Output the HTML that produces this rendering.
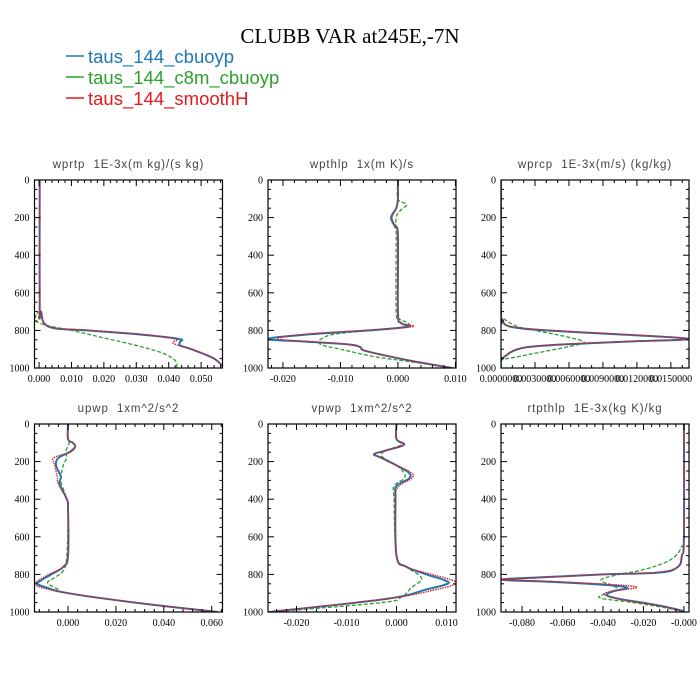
<!DOCTYPE html>
<html><head><meta charset="utf-8"><style>
body{margin:0;background:#fff;width:700px;height:700px;overflow:hidden}
svg{display:block}
.tk{font-family:"Liberation Serif",serif;font-size:10px;fill:#000}
.pt{font-family:"Liberation Sans",sans-serif;font-size:11.5px;fill:#444;letter-spacing:0.9px;white-space:pre}
</style></head><body>
<svg id="chart" width="700" height="700">
<text x="350" y="43" text-anchor="middle" font-family="Liberation Serif,serif" font-size="21">CLUBB VAR at245E,-7N</text>
<g>
<g><line x1="66" y1="56" x2="84" y2="56" stroke="#1f77b4" stroke-width="1.5"/><text x="88" y="63" font-family="Liberation Sans,sans-serif" font-size="18.5" fill="#1f77b4">taus_144_cbuoyp</text></g>
<g><line x1="66" y1="77" x2="84" y2="77" stroke="#2ca02c" stroke-width="1.5"/><text x="88" y="84" font-family="Liberation Sans,sans-serif" font-size="18.5" fill="#2ca02c">taus_144_c8m_cbuoyp</text></g>
<g><line x1="66" y1="98" x2="84" y2="98" stroke="#e31a1c" stroke-width="1.5"/><text x="88" y="105" font-family="Liberation Sans,sans-serif" font-size="18.5" fill="#e31a1c">taus_144_smoothH</text></g>
</g>
</svg>
<script>
// ---- data (levels 0..1000, downward) ----
const p1Lev=[0,680,700,780,800,820,845,860,880,900,950,1000];
const p1Blue=[0.0002,0.0002,0.0006,0.003,0.015,0.03,0.043,0.0435,0.0435,0.047,0.054,0.057];
const p1RedLev=[0,680,700,780,800,820,845,860,870,885,900,950,1000];
const p1Red=[0.0002,0.0002,0.0006,0.003,0.016,0.031,0.042,0.0415,0.0415,0.044,0.047,0.054,0.057];
const p1GreenLev=[0,680,700,740,760,780,800,840,880,920,960,1000];
const p1Green=[0.0002,0.0002,-0.0005,-0.0012,0,0.004,0.01,0.02,0.03,0.038,0.042,0.0425];

const p2Lev=[0,100,150,200,250,300,700,760,780,800,820,845,860,875,890,910,960,1000];
const p2Blue=[0,0,-0.0003,-0.0012,-0.0005,0,0,0.0005,0.0018,-0.005,-0.015,-0.0226,-0.016,-0.0085,-0.0065,-0.0055,0.002,0.0095];
const p2Red=[0,0,-0.0003,-0.0010,-0.0004,0,0,0.0006,0.0025,-0.006,-0.016,-0.021,-0.015,-0.0085,-0.0065,-0.0055,0.002,0.0095];
const p2GreenLev=[0,100,130,160,200,300,700,740,760,780,800,820,840,860,880,900,940,970,1000];
const p2Green=[0,0,0.0015,0.0005,-0.0003,-0.0003,-0.0003,0.0003,0.0017,0.0012,-0.005,-0.011,-0.013,-0.0138,-0.013,-0.01,-0.004,0.003,0.0095];

const p3Lev=[0,700,740,780,800,820,845,860,880,900,940,960,1000];
const p3Blue=[0,0,0.0001,0.0008,0.004,0.01,0.0166,0.011,0.004,0.0015,0.0003,0,0];
const p3Red=[0,0,0.0001,0.0009,0.0045,0.0105,0.0164,0.0105,0.0038,0.0014,0.0003,0,0];
const p3GreenLev=[0,700,740,780,800,830,860,880,910,940,960,1000];
const p3Green=[0,0,0.0003,0.0015,0.003,0.0055,0.0073,0.0065,0.004,0.0015,0,0];

const p4Lev=[0,80,100,120,150,180,220,280,320,400,450,700,760,800,830,850,870,900,950,1000];
const p4Blue=[0,0,0.002,0.003,0.0005,-0.004,-0.005,-0.003,-0.0035,-0.0005,0,0,-0.002,-0.007,-0.011,-0.0128,-0.009,0,0.028,0.0625];
const p4Red=[0,0,0.002,0.003,0.001,-0.006,-0.0055,-0.0045,-0.004,-0.0005,0,0,-0.002,-0.008,-0.012,-0.014,-0.011,0,0.028,0.0625];
const p4GreenLev=[0,80,100,150,180,220,300,380,450,700,780,820,845,880,900,950,1000];
const p4Green=[0,0,0.0005,-0.001,-0.0005,-0.002,-0.003,-0.001,0,-0.0005,-0.002,-0.006,-0.0085,-0.004,0,0.028,0.0625];

const p5Lev=[0,80,110,140,160,180,220,260,290,330,400,700,760,800,830,850,880,930,1000];
const p5Blue=[0,0,0.0015,-0.002,-0.0045,-0.003,0,0.0025,0.0025,0,-0.0002,0,0.002,0.006,0.0095,0.0102,0.006,-0.002,-0.0255];
const p5Red=[0,0,0.0015,-0.002,-0.0042,-0.003,0,0.003,0.003,0.0005,-0.0002,0,0.002,0.007,0.011,0.0118,0.008,-0.002,-0.0255];
const p5GreenLev=[0,80,110,140,170,220,260,290,330,400,700,760,820,870,920,950,1000];
const p5Green=[0,0,0.001,-0.002,-0.003,0,0.0015,0.0015,-0.0005,-0.0005,0,0.002,0.005,0.003,0.001,-0.003,-0.025];

const p6Lev=[0,600,700,760,790,800,815,828,840,855,870,890,910,930,960,990,1000];
const p6Blue=[0,0,-0.001,-0.003,-0.012,-0.04,-0.07,-0.09,-0.065,-0.04,-0.028,-0.035,-0.038,-0.032,-0.015,-0.002,0];
const p6RedLev=[0,600,700,760,790,800,820,828,840,865,890,910,940,970,1000];
const p6Red=[0,0,-0.001,-0.003,-0.014,-0.04,-0.075,-0.09,-0.06,-0.024,-0.036,-0.039,-0.028,-0.01,0];
const p6GreenLev=[0,600,650,700,740,780,800,830,860,880,900,925,950,980,1000];
const p6Green=[0,0,-0.001,-0.004,-0.01,-0.022,-0.032,-0.041,-0.035,-0.033,-0.038,-0.0415,-0.025,-0.008,0];

const yTicks=[0,200,400,600,800,1000];
const panels=[
 {name:'wprtp',title:'wprtp  1E-3x(m kg)/(s kg)',x0:34.5,y0:180,xmin:-0.0014,xmax:0.0566,ticks:[0,0.01,0.02,0.03,0.04,0.05],labels:['0.000','0.010','0.020','0.030','0.040','0.050'],minor:0.002,
  series:[[p1GreenLev,p1Green,'g'],[p1Lev,p1Blue,'b'],[p1RedLev,p1Red,'r']]},
 {name:'wpthlp',title:'wpthlp  1x(m K)/s',x0:268,y0:180,xmin:-0.0226,xmax:0.0101,ticks:[-0.02,-0.01,0,0.01],labels:['-0.020','-0.010','0.000','0.010'],minor:0.002,
  series:[[p2GreenLev,p2Green,'g'],[p2Lev,p2Blue,'b'],[p2Lev,p2Red,'r']]},
 {name:'wprcp',title:'wprcp  1E-3x(m/s) (kg/kg)',x0:501,y0:180,xmin:0,xmax:0.0166,ticks:[0,0.003,0.006,0.009,0.012,0.015],labels:['0.0000000','0.0030000','0.0060000','0.0090000','0.0120000','0.0150000'],minor:0.001,
  series:[[p3GreenLev,p3Green,'g'],[p3Lev,p3Blue,'b'],[p3Lev,p3Red,'r']]},
 {name:'upwp',title:'upwp  1xm^2/s^2',x0:34.5,y0:424,xmin:-0.014,xmax:0.0645,ticks:[0,0.02,0.04,0.06],labels:['0.000','0.020','0.040','0.060'],minor:0.004,
  series:[[p4GreenLev,p4Green,'g'],[p4Lev,p4Blue,'b'],[p4Lev,p4Red,'r']]},
 {name:'vpwp',title:'vpwp  1xm^2/s^2',x0:268,y0:424,xmin:-0.0257,xmax:0.0119,ticks:[-0.02,-0.01,0,0.01],labels:['-0.020','-0.010','0.000','0.010'],minor:0.002,
  series:[[p5GreenLev,p5Green,'g'],[p5Lev,p5Blue,'b'],[p5Lev,p5Red,'r']]},
 {name:'rtpthlp',title:'rtpthlp  1E-3x(kg K)/kg',x0:501,y0:424,xmin:-0.0904,xmax:0.0025,ticks:[-0.08,-0.06,-0.04,-0.02,0],labels:['-0.080','-0.060','-0.040','-0.020','-0.000'],minor:0.004,
  series:[[p6GreenLev,p6Green,'g'],[p6Lev,p6Blue,'b'],[p6RedLev,p6Red,'r']]}
];
const W=188,H=188,NS='http://www.w3.org/2000/svg';
const svg=document.getElementById('chart');
function mk(t,a,p){const e=document.createElementNS(NS,t);for(const k in a)e.setAttribute(k,a[k]);(p||svg).appendChild(e);return e;}
function smooth(pts){let d='M'+pts[0][0].toFixed(2)+','+pts[0][1].toFixed(2);const t=0.18;
 for(let i=0;i<pts.length-1;i++){const p0=pts[i-1]||pts[i],p1=pts[i],p2=pts[i+1],p3=pts[i+2]||p2;
  const c1=[p1[0]+(p2[0]-p0[0])*t,p1[1]+(p2[1]-p0[1])*t],c2=[p2[0]-(p3[0]-p1[0])*t,p2[1]-(p3[1]-p1[1])*t];
  d+='C'+c1.map(v=>v.toFixed(2))+' '+c2.map(v=>v.toFixed(2))+' '+p2.map(v=>v.toFixed(2));}
 return d;}
const styles={b:{stroke:'#1f77b4','stroke-width':2},g:{stroke:'#2ca02c','stroke-width':1.3,'stroke-dasharray':'4,2'},r:{stroke:'#e31a1c','stroke-width':1.4,'stroke-dasharray':'1.5,1'}};
const snames={b:'series-cbuoyp',g:'series-c8m-cbuoyp',r:'series-smoothh'};
panels.forEach(p=>{
 const g=mk('g',{});
 
 
 const X=v=>p.x0+(v-p.xmin)/(p.xmax-p.xmin)*W;
 const Y=v=>p.y0+v/1000*H;
 const t=mk('text',{x:p.x0+W/2,y:p.y0-12,'text-anchor':'middle',class:'pt','xml:space':'preserve'},g);t.textContent=p.title;
 
 
 const cid='c'+p.name;const cp=mk('clipPath',{id:cid},g);mk('rect',{x:p.x0,y:p.y0,width:W,height:H},cp);
 const sg=mk('g',{'clip-path':'url(#'+cid+')'},g);
 p.series.forEach(s=>{
  const pts=s[0].map((lv,i)=>[X(s[1][i]),Y(lv)]);
  const pa=mk('path',Object.assign({d:smooth(pts),fill:'none','stroke-linejoin':'round'},styles[s[2]]),sg);
  
  
 });
 const fr=mk('rect',{x:p.x0,y:p.y0,width:W,height:H,fill:'none',stroke:'#000','stroke-width':1.2},g);
 
 
 for(let v=0;v<=1000;v+=50){const maj=v%200===0,L=maj?6:3;
  mk('line',{x1:p.x0,x2:p.x0+L,y1:Y(v),y2:Y(v),stroke:'#000'},g);
  mk('line',{x1:p.x0+W,x2:p.x0+W-L,y1:Y(v),y2:Y(v),stroke:'#000'},g);}
 yTicks.forEach(v=>{const e=mk('text',{x:p.x0-5,y:Y(v)+3.5,'text-anchor':'end',class:'tk'},g);e.textContent=v;
  
  });
 const st=Math.ceil(p.xmin/p.minor-1e-6);
 for(let k=st;k*p.minor<=p.xmax+1e-9;k++){const v=k*p.minor;const maj=p.ticks.some(tv=>Math.abs(tv-v)<1e-9),L=maj?6:3;
  mk('line',{x1:X(v),x2:X(v),y1:p.y0+H,y2:p.y0+H-L,stroke:'#000'},g);
  mk('line',{x1:X(v),x2:X(v),y1:p.y0,y2:p.y0+L,stroke:'#000'},g);}
 p.ticks.forEach((v,i)=>{const e=mk('text',{x:X(v),y:p.y0+H+14,'text-anchor':'middle',class:'tk'},g);e.textContent=p.labels[i];
  
  });
});
</script>
</body></html>
